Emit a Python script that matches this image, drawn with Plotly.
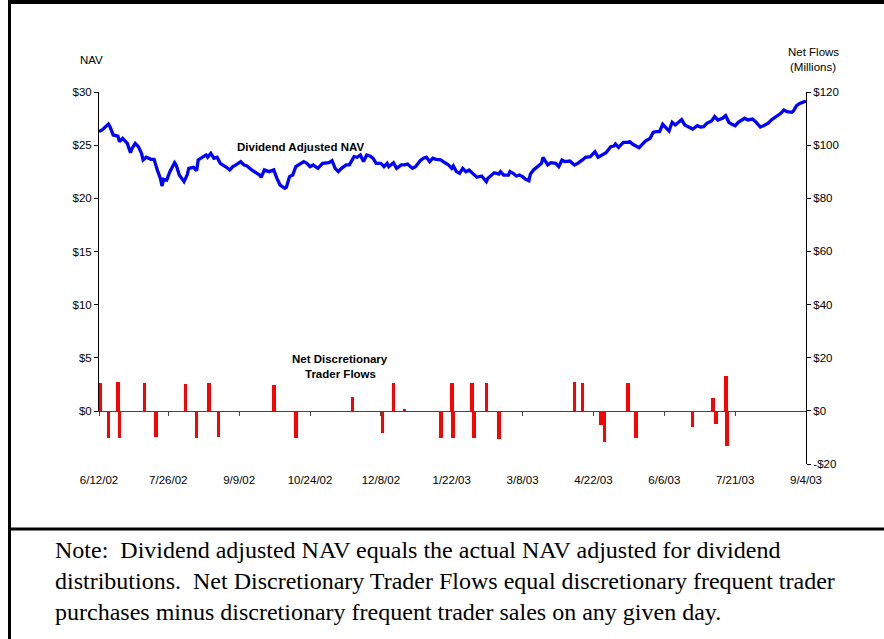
import pandas as pd
import plotly.graph_objects as go

# chart data (days counted from 6/12/02)
start_date = "2002-06-12"

nav_day = [
    0, 2, 6, 7, 9, 12, 13, 15, 18, 20,
    21, 23, 25, 27, 28, 30, 33, 35, 37, 39,
    40, 41, 43, 45, 48, 49, 51, 54, 56, 57,
    60, 62, 63, 66, 68, 69, 71, 73, 75, 77,
    79, 81, 83, 85, 87, 90, 92, 94, 97, 100,
    102, 103, 105, 108, 111, 113, 115, 118, 119, 121,
    123, 125, 127, 130, 132, 134, 136, 139, 142, 146,
    148, 150, 152, 154, 157, 159, 162, 164, 166, 168,
    170, 172, 174, 176, 179, 181, 183, 184, 187, 189,
    192, 194, 196, 199, 201, 204, 206, 208, 210, 212,
    214, 217, 220, 222, 224, 225, 227, 229, 231, 233,
    235, 238, 240, 243, 244, 246, 247, 249, 251, 254,
    255, 257, 260, 261, 263, 265, 267, 269, 271, 273,
    274, 276, 279, 281, 282, 284, 285, 287, 290, 292,
    294, 296, 299, 302, 304, 307, 309, 312, 314, 315,
    317, 320, 322, 325, 327, 328, 330, 331, 333, 336,
    337, 339, 343, 345, 347, 350, 352, 354, 356, 358,
    360, 362, 364, 366, 369, 370, 372, 375, 377, 380,
    382, 384, 386, 389, 391, 393, 396, 398, 400, 402,
    404, 406, 408, 410, 412, 415, 417, 420, 422, 425,
    427, 430, 433, 435, 437, 440, 441, 443, 445, 448, 449,
]
nav_value = [
    26.27, 26.43, 26.99, 26.74, 25.96, 25.86, 25.33, 25.64, 25.17, 24.29,
    24.70, 25.17, 24.86, 24.23, 23.61, 23.86, 23.67, 23.67, 22.67, 21.88,
    21.16, 21.79, 21.72, 22.51, 23.35, 23.14, 22.19, 21.57, 22.19, 22.82,
    22.92, 22.60, 23.61, 23.86, 24.08, 23.86, 24.23, 23.77, 23.86, 23.29,
    23.14, 22.92, 22.67, 22.98, 23.14, 23.45, 23.14, 23.04, 22.67, 22.35,
    22.19, 21.98, 22.67, 22.51, 22.67, 21.88, 21.25, 20.94, 21.04, 22.04,
    22.19, 22.98, 23.14, 23.45, 23.29, 22.98, 23.14, 22.82, 23.29, 23.35,
    23.54, 22.82, 22.51, 22.82, 23.14, 23.14, 23.92, 23.86, 24.08, 23.45,
    24.08, 23.98, 23.77, 23.29, 23.29, 22.98, 23.29, 22.98, 23.35, 22.82,
    23.14, 23.14, 23.23, 22.82, 22.98, 23.54, 23.77, 23.86, 23.45, 23.77,
    23.67, 23.61, 23.32, 23.14, 22.82, 23.04, 22.51, 22.35, 22.82, 22.51,
    22.67, 22.19, 21.98, 22.10, 21.88, 21.57, 21.88, 22.19, 22.41, 22.29,
    22.51, 22.19, 22.19, 22.51, 22.35, 22.10, 22.19, 22.04, 21.79, 21.66,
    22.29, 22.67, 23.04, 23.29, 23.86, 23.45, 23.14, 23.35, 23.29, 22.98,
    23.61, 23.45, 23.51, 23.14, 23.29, 23.61, 23.86, 23.92, 24.23, 24.39,
    23.86, 24.08, 24.29, 24.86, 24.92, 25.11, 24.80, 24.95, 25.27, 25.27,
    25.33, 25.08, 24.76, 25.08, 25.39, 25.64, 26.21, 26.27, 26.27, 26.96,
    26.65, 26.33, 27.15, 26.90, 27.27, 27.40, 26.90, 26.65, 26.52, 26.83,
    26.71, 26.74, 27.06, 27.27, 27.68, 27.37, 27.53, 27.77, 27.15, 26.96,
    26.83, 27.15, 27.37, 27.53, 27.37, 27.46, 27.21, 26.71, 26.83, 27.06,
    27.37, 27.68, 27.99, 28.31, 28.15, 28.09, 28.21, 28.71, 28.93, 29.09, 29.12,
]

flow_day = [1, 6, 12, 13, 29, 36, 55, 62, 70, 76,
            111, 125, 161, 180, 187, 194, 217, 224, 225, 237,
            238, 246, 254, 302, 307, 319, 321, 336, 341, 377,
            390, 392, 398, 399]
flow_value = [10.4, -10.4, 10.7, -10.4, 10.4, -10.0, 10.0, -10.4, 10.3, -10.0,
              9.8, -10.4, 5.3, -8.5, 10.3, 0.4, -10.4, 10.4, -10.4, 10.4,
              -10.4, 10.4, -10.7, 11.0, 10.4, -5.4, -11.7, 10.3, -10.2, -6.0,
              4.8, -4.8, 13.2, -13.2]

date_ticks = ["2002-06-12", "2002-07-26", "2002-09-09", "2002-10-24", "2002-12-08",
              "2003-01-22", "2003-03-08", "2003-04-22", "2003-06-06", "2003-07-21",
              "2003-09-04"]
date_labels = ["6/12/02", "7/26/02", "9/9/02", "10/24/02", "12/8/02", "1/22/03",
               "3/8/03", "4/22/03", "6/6/03", "7/21/03", "9/4/03"]
nav_ticks = [0, 5, 10, 15, 20, 25, 30]
nav_labels = ["$0", "$5", "$10", "$15", "$20", "$25", "$30"]
flow_ticks = [-20, 0, 20, 40, 60, 80, 100, 120]
flow_labels = ["-$20", "$0", "$20", "$40", "$60", "$80", "$100", "$120"]

note_lines = [
    "Note:\u00a0 Dividend adjusted NAV equals the actual NAV adjusted for dividend",
    "distributions.\u00a0 Net Discretionary Trader Flows equal discretionary frequent trader",
    "purchases minus discretionary frequent trader sales on any given day.",
]

base = pd.Timestamp(start_date)
nav_dates = base + pd.to_timedelta(nav_day, unit="D")
flow_dates = base + pd.to_timedelta(flow_day, unit="D")

W, H = 884, 639
px = lambda x: x / W          # pixel -> paper (margins are zero)
py = lambda y: 1 - y / H

sans = "Liberation Sans, Arial, sans-serif"
serif = "Liberation Serif, Times New Roman, serif"

fig = go.Figure()

fig.add_trace(go.Bar(
    x=flow_dates, y=flow_value, yaxis="y2",
    width=2.3 * 86400000,
    marker=dict(color="#ff0000", line=dict(width=0)),
    showlegend=False,
))

fig.add_trace(go.Scatter(
    x=nav_dates, y=nav_value, yaxis="y",
    mode="lines",
    line=dict(color="#0000ff", width=3.3),
    showlegend=False,
))

fig.update_layout(
    template="none",
    width=W, height=H,
    margin=dict(l=0, r=0, t=0, b=0, pad=0),
    paper_bgcolor="white", plot_bgcolor="rgba(0,0,0,0)",
    font=dict(family=sans, size=11, color="black"),
    showlegend=False,
    bargap=0,
    xaxis=dict(
        type="date",
        domain=[px(99), px(806)],
        range=[date_ticks[0], date_ticks[-1]],
        anchor="y", automargin=False,
        tickmode="array", tickvals=date_ticks, ticktext=date_labels,
        showline=True, linecolor="#444444", linewidth=1,
        ticks="outside", ticklen=4, tickcolor="#444444", tickwidth=1,
        ticklabelstandoff=54,
        showgrid=False, zeroline=False,
        tickfont=dict(size=11.5),
    ),
    yaxis=dict(
        domain=[py(411), py(92)],
        range=[0, 30],
        anchor="x", automargin=False,
        tickmode="array", tickvals=nav_ticks, ticktext=nav_labels,
        showline=True, linecolor="black", linewidth=1,
        ticks="outside", ticklen=4, tickcolor="black", tickwidth=1,
        showgrid=False, zeroline=False,
        tickfont=dict(size=11.5),
    ),
    yaxis2=dict(
        domain=[py(464), py(92)],
        range=[-20, 120],
        anchor="x", side="right", automargin=False,
        tickmode="array", tickvals=flow_ticks, ticktext=flow_labels,
        showline=True, linecolor="black", linewidth=1,
        ticks="outside", ticklen=4, tickcolor="black", tickwidth=1,
        showgrid=False, zeroline=False,
        tickfont=dict(size=11.5),
    ),
)

# axis titles and series labels
labels = [
    ("NAV", 91, 60, False),
    ("Net Flows", 813, 52, False),
    ("(Millions)", 813, 67, False),
    ("Dividend Adjusted NAV", 300, 147, True),
    ("Net Discretionary", 340, 359, True),
    ("Trader Flows", 340, 374, True),
]
for text, x, y, bold in labels:
    fig.add_annotation(
        text=f"<b>{text}</b>" if bold else text,
        xref="paper", yref="paper", x=px(x), y=py(y),
        xanchor="center", yanchor="middle", showarrow=False,
        font=dict(family=sans, size=11.5, color="black"),
    )

# note under the chart
for i, line in enumerate(note_lines):
    fig.add_annotation(
        text=line,
        xref="paper", yref="paper", x=px(53), y=py(550 + 31 * i),
        xanchor="left", yanchor="middle", showarrow=False,
        font=dict(family=serif, size=24, color="black"),
    )

# frame lines around the chart and the note
frame = dict(color="black", width=3)
fig.add_shape(type="line", xref="paper", yref="paper",
              x0=px(8), x1=1.0, y0=py(2), y1=py(2), line=dict(color="black", width=4))
fig.add_shape(type="line", xref="paper", yref="paper",
              x0=px(9.5), x1=px(9.5), y0=py(0), y1=0.0, line=frame)
fig.add_shape(type="line", xref="paper", yref="paper",
              x0=px(8), x1=1.0, y0=py(529), y1=py(529), line=frame)

# drop the page's default body margin so the figure sits at the window corner
fig.write_html("out.html", config={"displayModeBar": False},
               post_script="document.body.style.margin = '0';")
